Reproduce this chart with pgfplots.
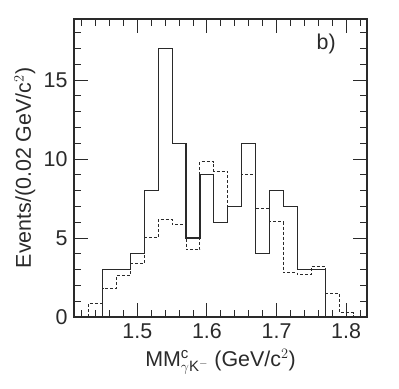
\documentclass[border=0pt]{standalone}
\usepackage{fontspec}
\setmainfont{Liberation Sans}
\usepackage{pgfplots}
\usepackage{pgfplotstable}
\pgfplotsset{compat=1.18}
\definecolor{ink}{HTML}{2A2A2A}

% bin low edge, content
\pgfplotstableread{
x y
1.45 0
1.45 3
1.47 3
1.49 4
1.51 8
1.53 17
1.55 11
1.57 5
1.59 9
1.61 6
1.63 7
1.65 11
1.67 4
1.69 8
1.71 7
1.73 3
1.75 3
1.77 0
}\solidhist

\pgfplotstableread{
x y
1.43 0
1.43 0.87
1.45 1.82
1.47 2.62
1.49 3.40
1.51 5.05
1.53 6.20
1.55 5.87
1.57 4.25
1.59 9.84
1.61 9.21
1.63 7.00
1.65 9.00
1.67 6.84
1.69 6.04
1.71 2.81
1.73 2.66
1.75 3.19
1.77 1.50
1.79 0.27
1.81 0
}\dashhist

\begin{document}
\begin{tikzpicture}
\begin{axis}[
  scale only axis, width=293bp, height=298bp,
  xmin=1.409, xmax=1.83, ymin=0, ymax=18.87,
  xtick={1.5,1.6,1.7,1.8},
  xticklabels={1.5,1.6,1.7,1.8},
  minor xtick={1.42,1.44,1.46,1.48,1.52,1.54,1.56,1.58,1.62,1.64,1.66,1.68,1.72,1.74,1.76,1.78,1.82},
  ytick={0,5,10,15},
  yticklabels={0,5,10,15},
  minor ytick={1,2,3,4,6,7,8,9,11,12,13,14,16,17,18},
  tick align=inside,
  major tick length=14bp, minor tick length=7bp,
  every tick/.style={ink, line width=0.9bp},
  axis line style={ink, line width=1.1bp},
  ticklabel style={font=\fontsize{21.5}{24}\selectfont, text=ink},
  xticklabel style={yshift=-3bp},
  yticklabel style={xshift=-3bp},
  label style={font=\fontsize{21.5}{24}\selectfont, text=ink},
  xlabel={MM$^{\mathrm{c}}_{\gamma\mathrm{K}^{-}}$ (GeV/c$^{2}$)},
  xlabel style={at={(axis description cs:0.5,0)}, anchor=base, yshift=-49bp},
  ylabel={Events/(0.02 GeV/c$^{2}$)},
  ylabel style={at={([xshift=-43bp]axis description cs:0,0.5)}, anchor=base},
]
\addplot[const plot, ink, line width=1.0bp, dash pattern=on 3bp off 2bp] table {\dashhist};
\addplot[const plot, ink, line width=1.1bp] table {\solidhist};
\node[anchor=base west, font=\fontsize{21.5}{24}\selectfont, text=ink] at (rel axis cs:0.816,0.896) {b)};
\coordinate (SW) at (rel axis cs:0,0);
\coordinate (NE) at (rel axis cs:1,1);
\end{axis}
\pgfresetboundingbox
\path[use as bounding box] ([xshift=-74bp,yshift=-72bp]SW) rectangle ([xshift=32bp,yshift=19bp]NE);
\end{tikzpicture}
\end{document}
